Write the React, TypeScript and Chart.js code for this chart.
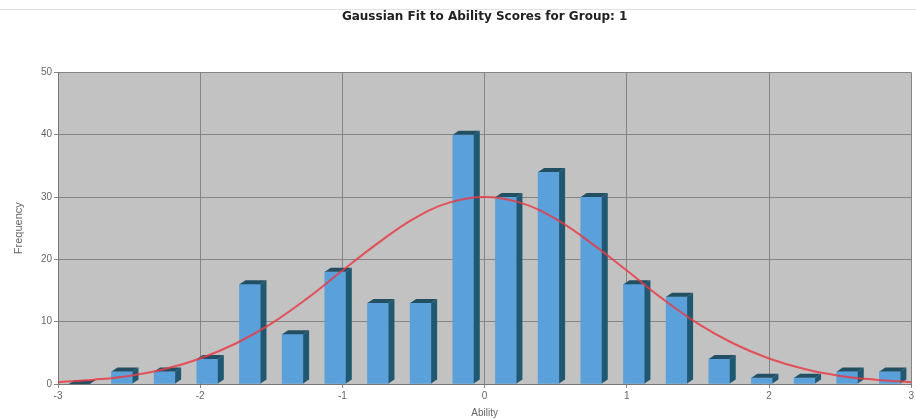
import React, { useEffect, useRef } from "react";
import { Chart, registerables } from "chart.js";

Chart.register(...registerables);

const binCenters = [-2.85, -2.55, -2.25, -1.95, -1.65, -1.35, -1.05, -0.75, -0.45, -0.15, 0.15, 0.45, 0.75, 1.05, 1.35, 1.65, 1.95, 2.25, 2.55, 2.85];
const frequencies = [0, 2, 2, 4, 16, 8, 18, 13, 13, 40, 30, 34, 30, 16, 14, 4, 1, 1, 2, 2];
const curveX = [-3, -2.75, -2.5, -2.25, -2, -1.75, -1.5, -1.25, -1, -0.75, -0.5, -0.25, 0, 0.25, 0.5, 0.75, 1, 1.25, 1.5, 1.75, 2, 2.25, 2.5, 2.75, 3];
const curveY = [0.3, 0.7, 1.3, 2.4, 4.1, 6.5, 9.7, 13.7, 18.2, 22.6, 26.5, 29.1, 30, 29.1, 26.5, 22.6, 18.2, 13.7, 9.7, 6.5, 4.1, 2.4, 1.3, 0.7, 0.3];
const xTicks = [-3, -2, -1, 0, 1, 2, 3];
const yTicks = [0, 10, 20, 30, 40, 50];

const TITLE = "Gaussian Fit to Ability Scores for Group: 1";

const plotBg = {
  id: "plotBg",
  beforeDraw(chart: any) {
    const { ctx, chartArea: a } = chart;
    ctx.save();
    ctx.fillStyle = "#c2c2c2";
    ctx.fillRect(a.left, a.top, a.right - a.left, a.bottom - a.top);
    ctx.strokeStyle = "#e2e2e2";
    ctx.lineWidth = 1;
    ctx.beginPath();
    ctx.moveTo(0, 9.5);
    ctx.lineTo(chart.width, 9.5);
    ctx.stroke();
    ctx.restore();
  },
};

const bar3d = {
  id: "bar3d",
  afterDatasetDraw(chart: any, args: any) {
    if (args.index !== 0) return;
    const meta = chart.getDatasetMeta(0);
    const { ctx } = chart;
    const dx = 6;
    const dy = 4;
    ctx.save();
    meta.data.forEach((el: any) => {
      const p = el.getProps(["x", "y", "base", "width"], true);
      const left = p.x - p.width / 2;
      const right = p.x + p.width / 2;
      const top = p.y;
      const base = p.base;
      ctx.fillStyle = "#1f5870";
      ctx.beginPath();
      ctx.moveTo(right, top);
      ctx.lineTo(right + dx, top - dy);
      ctx.lineTo(right + dx, base - dy);
      ctx.lineTo(right, base);
      ctx.closePath();
      ctx.fill();
      ctx.fillStyle = "#234f63";
      ctx.beginPath();
      ctx.moveTo(left, top);
      ctx.lineTo(right, top);
      ctx.lineTo(right + dx, top - dy);
      ctx.lineTo(left + dx, top - dy);
      ctx.closePath();
      ctx.fill();
    });
    ctx.restore();
  },
};

export default function App() {
  const ref = useRef<HTMLCanvasElement | null>(null);
  useEffect(() => {
    if (!ref.current) return;
    const chart = new Chart(ref.current, {
      type: "bar",
      data: {
        datasets: [
          {
            type: "bar",
            label: "Frequency",
            data: binCenters.map((x, i) => ({ x, y: frequencies[i] })),
            backgroundColor: "#5aa0da",
            borderWidth: 0,
            barThickness: 21,
            order: 1,
          } as any,
          {
            type: "line",
            label: "Gaussian",
            data: curveX.map((x, i) => ({ x, y: curveY[i] })),
            borderColor: "rgba(232,60,70,0.85)",
            borderWidth: 2,
            pointRadius: 0,
            tension: 0.4,
            fill: false,
            order: 0,
          } as any,
        ],
      },
      options: {
        animation: false,
        responsive: false,
        maintainAspectRatio: false,
        layout: { padding: { top: 0, right: 4, left: 0, bottom: 0 } },
        plugins: {
          legend: { display: false },
          tooltip: { enabled: false },
          title: {
            display: true,
            fullSize: false,
            text: TITLE,
            color: "#222",
            font: { family: "DejaVu Sans, sans-serif", size: 12, weight: "bold" },
            padding: { top: 10, bottom: 48 },
          },
        },
        scales: {
          x: {
            type: "linear",
            min: -3,
            max: 3,
            offset: false,
            afterBuildTicks: (s: any) => {
              s.ticks = xTicks.map((v) => ({ value: v }));
            },
            afterFit: (s: any) => {
              s.height = 35;
            },
            ticks: { color: "#666", font: { family: "Liberation Sans, Arial, sans-serif", size: 10 }, padding: 2 },
            grid: { color: "#858585", tickLength: 4, drawTicks: true, offset: false },
            border: { color: "#777" },
            title: {
              display: true,
              text: "Ability",
              color: "#666",
              font: { family: "Liberation Sans, Arial, sans-serif", size: 10 },
              padding: { top: 0, bottom: 0 },
            },
          },
          y: {
            type: "linear",
            min: 0,
            max: 50,
            afterBuildTicks: (s: any) => {
              s.ticks = yTicks.map((v) => ({ value: v }));
            },
            afterFit: (s: any) => {
              s.width = 58;
            },
            ticks: { color: "#666", font: { family: "Liberation Sans, Arial, sans-serif", size: 10 }, padding: 2 },
            grid: { color: "#858585", tickLength: 4 },
            border: { color: "#777" },
            title: {
              display: true,
              text: "Frequency",
              color: "#666",
              font: { family: "Liberation Sans, Arial, sans-serif", size: 11 },
              padding: { top: 12, bottom: 0 },
            },
          },
        },
      } as any,
      plugins: [plotBg, bar3d],
    });
    return () => chart.destroy();
  }, []);
  return (
    <div style={{ position: "fixed", left: 0, top: 0, width: 916, height: 419, background: "#fff" }}>
      <canvas ref={ref} width={916} height={419} style={{ display: "block" }} />
    </div>
  );
}
